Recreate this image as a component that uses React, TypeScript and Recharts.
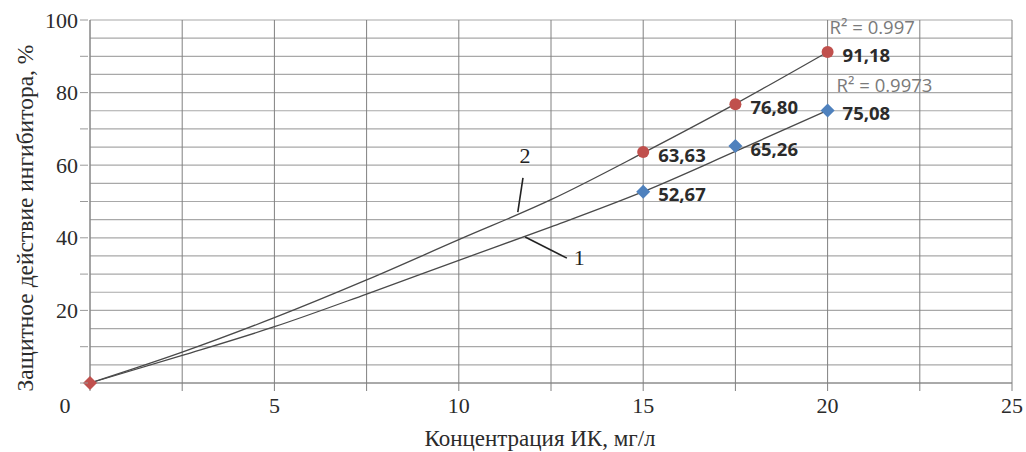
import React from "react";
import {
  ComposedChart, Line, Scatter, XAxis, YAxis, CartesianGrid,
  ReferenceDot, ReferenceLine,
} from "recharts";

// measured points
const conc = [15, 17.5, 20];
const effect1 = [52.67, 65.26, 75.08];
const effect2 = [63.63, 76.8, 91.18];

// trend curves
const trendX = [0, 2.5, 5, 7.5, 10, 12.5, 15, 17.5, 20];
const trend1 = [0, 7.6, 15.5, 24.5, 33.8, 43.0, 52.7, 63.8, 75.1];
const trend2 = [0, 8.5, 18.0, 28.4, 39.5, 50.5, 63.4, 76.9, 91.2];

const r2Labels = ["R² = 0.9973", "R² = 0.997"];
const xTitle = "Концентрация ИК, мг/л";
const yTitle = "Защитное действие ингибитора, %";
const xTicks = [0, 2.5, 5, 7.5, 10, 12.5, 15, 17.5, 20, 22.5, 25];
const yTicks = [0, 5, 10, 15, 20, 25, 30, 35, 40, 45, 50, 55, 60, 65, 70, 75, 80, 85, 90, 95, 100];

const RED = "#C0504D";
const BLUE = "#4F81BD";
const SERIF = "'Liberation Serif', 'Times New Roman', serif";
const SANS = "'Open Sans', 'Liberation Sans', sans-serif";

const trendData1 = trendX.map((x, i) => ({ x, y: trend1[i] }));
const trendData2 = trendX.map((x, i) => ({ x, y: trend2[i] }));
const points1 = conc.map((x, i) => ({ x, y: effect1[i] }));
const points2 = conc.map((x, i) => ({ x, y: effect2[i] }));
const origin = [{ x: 0, y: 0 }];

const fmt = (v: number) => v.toFixed(2).replace(".", ",");

const ValueText = ({ cx, cy, v }: any) => (
  <text x={cx + 15} y={cy + 2} dominantBaseline="central" fill="#2b2b2b"
    fontFamily={SANS} fontWeight={700} fontSize={18.5}>
    {fmt(v)}
  </text>
);

const Diamond = ({ cx, cy, color, s = 7 }: any) => (
  <path d={`M${cx},${cy - s} L${cx + s},${cy} L${cx},${cy + s} L${cx - s},${cy} Z`} fill={color} />
);

const BlueShape = (p: any) => (
  <g>
    <Diamond cx={p.cx} cy={p.cy} color={BLUE} />
    <ValueText cx={p.cx} cy={p.cy} v={p.payload.y} />
  </g>
);

const RedShape = (p: any) => (
  <g>
    <circle cx={p.cx} cy={p.cy} r={6} fill={RED} />
    <ValueText cx={p.cx} cy={p.cy} v={p.payload.y} />
  </g>
);

const OriginShape = (p: any) => <Diamond cx={p.cx} cy={p.cy} color={RED} s={7} />;

const XTick = ({ x, y, payload }: any) => {
  const v = payload.value;
  if (v % 5 !== 0) return null;
  const shift = v === 0 ? -25 : 0;
  return (
    <text x={x + shift} y={y + 20} textAnchor="middle" fill="#2b2b2b"
      fontFamily={SERIF} fontSize={22}>
      {v}
    </text>
  );
};

const YTick = ({ x, y, payload }: any) => {
  const v = payload.value;
  return (
    <g>
      {v % 10 === 0 && <line x1={x} x2={x + 8} y1={y} y2={y} stroke="#9a9a9a" />}
      {v % 20 === 0 && v > 0 && (
        <text x={x - 2} y={y} textAnchor="end" dominantBaseline="central"
          fill="#2b2b2b" fontFamily={SERIF} fontSize={22}>
          {v}
        </text>
      )}
    </g>
  );
};

const FreeText = ({ viewBox, text, dx = 0, dy = 0, color = "#7a7a7a", font = SANS, size = 18.5, anchor = "start" }: any) => (
  <text x={viewBox.x + dx} y={viewBox.y + dy} fill={color} fontFamily={font}
    fontSize={size} textAnchor={anchor} dominantBaseline="central">
    {text}
  </text>
);

const XTitle = () => (
  <text x={540} y={438} textAnchor="middle" dominantBaseline="central"
    fill="#2b2b2b" fontFamily={SERIF} fontSize={23}>
    {xTitle}
  </text>
);

const YTitle = () => (
  <text x={25} y={218} transform="rotate(-90 25 218)" textAnchor="middle"
    dominantBaseline="central" fill="#2b2b2b" fontFamily={SERIF} fontSize={23.5}>
    {yTitle}
  </text>
);

export default function App() {
  return (
    <div style={{ position: "absolute", left: 0, top: 0, background: "#fff" }}>
      <ComposedChart width={1026} height={452} margin={{ top: 20, right: 14, left: 0, bottom: 0 }}>
        <CartesianGrid vertical={false} stroke="#a8a8a8" strokeWidth={1.2} />
        <CartesianGrid horizontal={false} stroke="#808080" />
        <XAxis
          type="number"
          dataKey="x"
          domain={[0, 25]}
          ticks={xTicks}
          interval={0}
          height={69}
          tick={<XTick />}
          tickLine={{ stroke: "#808080" }}
          tickSize={8}
          axisLine={{ stroke: "#808080" }}
          label={{ value: xTitle, content: () => <XTitle /> }}
        />
        <YAxis
          type="number"
          dataKey="y"
          domain={[0, 100]}
          ticks={yTicks}
          interval={0}
          width={90}
          tick={<YTick />}
          tickLine={false}
          tickSize={8}
          axisLine={{ stroke: "#8a8a8a" }}
          label={{ value: yTitle, content: () => <YTitle /> }}
        />
        <Line data={trendData1} dataKey="y" type="monotone" stroke="#4a4a4a" strokeWidth={1.3}
          dot={false} activeDot={false} isAnimationActive={false} />
        <Line data={trendData2} dataKey="y" type="monotone" stroke="#4a4a4a" strokeWidth={1.3}
          dot={false} activeDot={false} isAnimationActive={false} />
        <Scatter data={points1} dataKey="y" shape={<BlueShape />} isAnimationActive={false} />
        <Scatter data={points2} dataKey="y" shape={<RedShape />} isAnimationActive={false} />
        <Scatter data={origin} dataKey="y" shape={<OriginShape />} isAnimationActive={false} />

        <ReferenceDot x={20} y={91.18} r={1} fill="none" stroke="none" ifOverflow="visible"
          label={<FreeText text={r2Labels[1]} dx={3} dy={-25} />} />
        <ReferenceDot x={20} y={75.08} r={1} fill="none" stroke="none" ifOverflow="visible"
          label={<FreeText text={r2Labels[0]} dx={10} dy={-25} />} />

        <ReferenceLine segment={[{ x: 11.74, y: 56.5 }, { x: 11.6, y: 47.1 }]} stroke="#222" strokeWidth={1.6} />
        <ReferenceLine segment={[{ x: 11.8, y: 40.2 }, { x: 12.93, y: 34.4 }]} stroke="#222" strokeWidth={1.6} />
        <ReferenceDot x={11.82} y={62.3} r={1} fill="none" stroke="none"
          label={<FreeText text="2" color="#222" font={SERIF} size={22} anchor="middle" />} />
        <ReferenceDot x={13.29} y={34.4} r={1} fill="none" stroke="none"
          label={<FreeText text="1" color="#222" font={SERIF} size={22} anchor="middle" />} />
      </ComposedChart>
    </div>
  );
}
